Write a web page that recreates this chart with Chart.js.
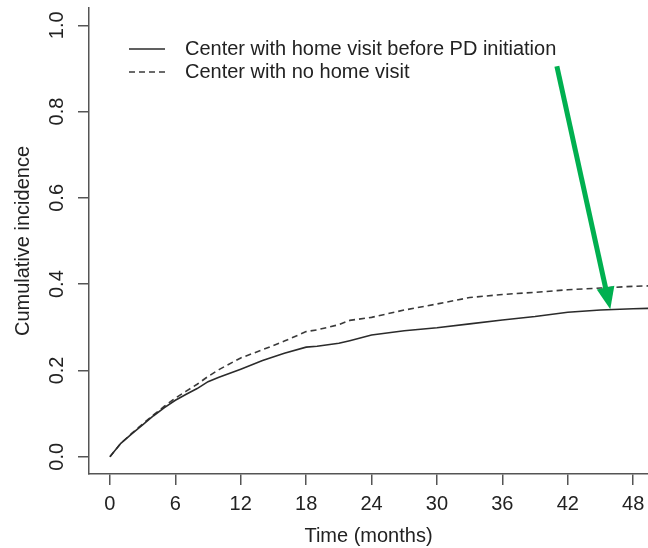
<!DOCTYPE html>
<html lang="en">
  <head>
    <meta charset="utf-8" />
    <title>Cumulative incidence</title>
    <style>
      html, body { margin: 0; padding: 0; background: #fff; }
      #wrap { width: 648px; height: 548px; }
    </style>
  </head>
  <body>
    <div id="wrap">
      <canvas id="canvas"></canvas>
    </div>

    <script src="https://cdn.jsdelivr.net/npm/chart.js"></script>

    <script>
      // values
      const months = [0, 1, 2, 3, 4, 5, 6, 7, 8, 9, 10, 12, 14, 16, 18, 19, 21, 22, 24, 27, 30, 33, 36, 39, 42, 45, 48, 49.5];
      const homeVisit = [0, 0.031, 0.053, 0.074, 0.095, 0.114, 0.131, 0.145, 0.158, 0.174, 0.184, 0.203, 0.223, 0.240, 0.254, 0.256, 0.263, 0.269, 0.282, 0.292, 0.299, 0.308, 0.317, 0.325, 0.335, 0.340, 0.343, 0.344];
      const noHomeVisit = [0, 0.031, 0.054, 0.076, 0.097, 0.117, 0.136, 0.152, 0.168, 0.186, 0.202, 0.229, 0.248, 0.268, 0.290, 0.294, 0.306, 0.316, 0.323, 0.340, 0.354, 0.369, 0.376, 0.381, 0.387, 0.391, 0.395, 0.396];
      const seriesLabels = ["Center with home visit before PD initiation", "Center with no home visit"];
      const xTicks = [0, 6, 12, 18, 24, 30, 36, 42, 48];
      const yTicks = [0, 0.2, 0.4, 0.6, 0.8, 1.0];

      // green arrow annotation, in data units (month, incidence)
      const arrowFrom = { x: 41.0, y: 0.905 };
      const arrowTo = { x: 45.9, y: 0.342 };

      const font = { family: "'Liberation Sans', Arial, sans-serif", size: 20 };
      const textColor = "#222";
      const axisColor = "#555";

      const toPoints = (ys) => months.map((m, i) => ({ x: m, y: ys[i] }));

      const legendPlugin = {
        id: "innerLegend",
        afterDraw(chart) {
          const c = chart.ctx;
          const area = chart.chartArea;
          c.save();
          c.font = font.size + "px " + font.family;
          c.textBaseline = "middle";
          c.textAlign = "left";
          chart.data.datasets.forEach((ds, i) => {
            const y = area.top + 41 + i * 23;
            const x = area.left + 40;
            c.strokeStyle = ds.borderColor;
            c.lineWidth = ds.borderWidth;
            c.setLineDash(ds.borderDash || []);
            c.beginPath();
            c.moveTo(x, y);
            c.lineTo(x + 36, y);
            c.stroke();
            c.setLineDash([]);
            c.fillStyle = textColor;
            c.fillText(ds.label, x + 56, y);
          });
          c.restore();
        },
      };

      const arrowPlugin = {
        id: "arrow",
        afterDatasetsDraw(chart) {
          const { x: xs, y: ys } = chart.scales;
          const x0 = xs.getPixelForValue(arrowFrom.x);
          const y0 = ys.getPixelForValue(arrowFrom.y);
          const x1 = xs.getPixelForValue(arrowTo.x);
          const y1 = ys.getPixelForValue(arrowTo.y);
          const len = Math.hypot(x1 - x0, y1 - y0);
          const ux = (x1 - x0) / len;
          const uy = (y1 - y0) / len;
          const head = 22;
          const half = 9;
          const bx = x1 - ux * head;
          const by = y1 - uy * head;
          const c = chart.ctx;
          c.save();
          c.strokeStyle = "#00b050";
          c.fillStyle = "#00b050";
          c.lineWidth = 5;
          c.beginPath();
          c.moveTo(x0, y0);
          c.lineTo(bx + ux * 2, by + uy * 2);
          c.stroke();
          c.beginPath();
          c.moveTo(x1, y1);
          c.lineTo(bx - uy * half, by + ux * half);
          c.lineTo(bx + uy * half, by - ux * half);
          c.closePath();
          c.fill();
          c.restore();
        },
      };

      const zeroPadding = (s) => {
        s.paddingTop = 0;
        s.paddingBottom = 0;
        s.paddingLeft = 0;
        s.paddingRight = 0;
      };

      new Chart(document.getElementById("canvas"), {
        type: "line",
        data: {
          datasets: [
            {
              label: seriesLabels[0],
              data: toPoints(homeVisit),
              borderColor: "#2b2b2b",
              borderWidth: 1.6,
              pointRadius: 0,
              tension: 0,
            },
            {
              label: seriesLabels[1],
              data: toPoints(noHomeVisit),
              borderColor: "#3a3a3a",
              borderWidth: 1.6,
              borderDash: [6, 4],
              pointRadius: 0,
              tension: 0,
            },
          ],
        },
        options: {
          responsive: true,
          maintainAspectRatio: false,
          animation: false,
          layout: { padding: { top: 8, right: 0, bottom: 0, left: 0 } },
          plugins: {
            legend: { display: false },
            tooltip: { enabled: false },
          },
          scales: {
            x: {
              type: "linear",
              min: -1.92,
              max: 49.36,
              afterBuildTicks: (s) => {
                s.ticks = xTicks.map((v) => ({ value: v }));
              },
              afterFit: (s) => {
                s.height = 74;
                zeroPadding(s);
              },
              grid: { drawOnChartArea: false, tickLength: 11, color: axisColor, lineWidth: 1.5 },
              border: { color: axisColor, width: 1.5 },
              ticks: { font, color: textColor, padding: 7, maxRotation: 0, autoSkip: false },
              title: { display: true, text: "Time (months)", font, color: textColor, padding: { top: 0, bottom: 0 } },
            },
            y: {
              type: "linear",
              min: -0.04,
              max: 1.04,
              afterBuildTicks: (s) => {
                s.ticks = yTicks.map((v) => ({ value: v }));
              },
              afterFit: (s) => {
                s.width = 89;
                zeroPadding(s);
              },
              grid: { drawOnChartArea: false, tickLength: 11, color: axisColor, lineWidth: 1.5 },
              border: { color: axisColor, width: 1.5 },
              ticks: {
                font,
                color: textColor,
                padding: 7,
                minRotation: 90,
                maxRotation: 90,
                crossAlign: "center",
                autoSkip: false,
                callback: (v) => v.toFixed(1),
              },
              title: { display: true, text: "Cumulative incidence", font, color: textColor, padding: { top: 11, bottom: 0 } },
            },
          },
        },
        plugins: [legendPlugin, arrowPlugin],
      });
    </script>
  </body>
</html>
